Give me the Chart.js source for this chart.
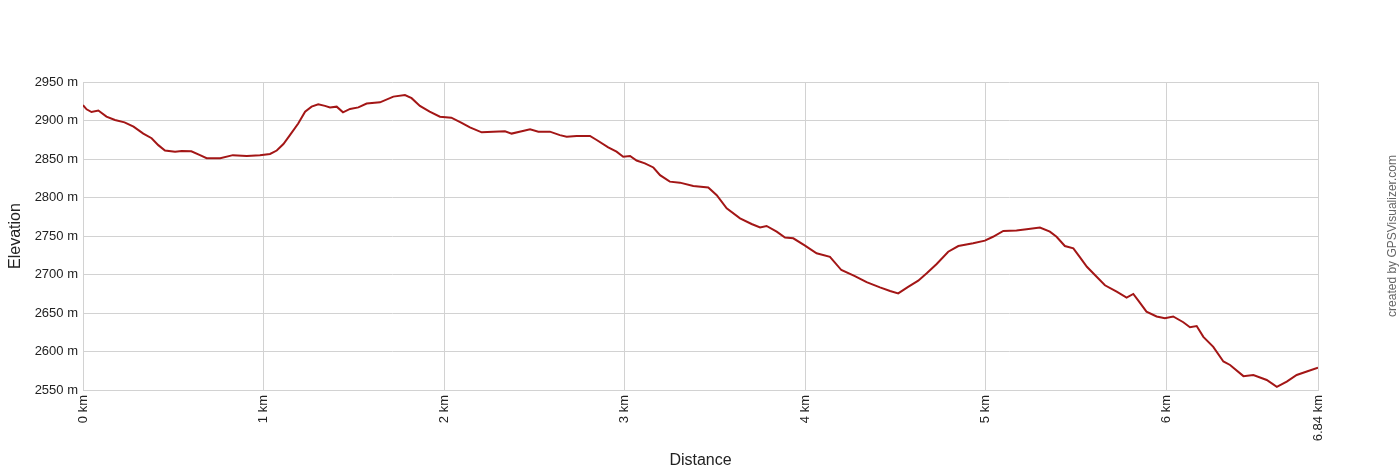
<!DOCTYPE html>
<html>
<head>
<meta charset="utf-8">
<script src="https://cdn.jsdelivr.net/npm/chart.js@4"></script>
<style>
  html, body { margin: 0; padding: 0; background: #fff; }
  #wrap { width: 1400px; height: 474px; position: relative; }
</style>
</head>
<body>
<div id="wrap"><canvas id="c" width="1400" height="474"></canvas></div>
<script>
const distanceKm = [0,0.02,0.047,0.085,0.13,0.177,0.23,0.28,0.334,0.38,0.417,0.454,0.51,0.547,0.60,0.648,0.685,0.76,0.83,0.907,0.98,1.036,1.073,1.11,1.146,1.192,1.23,1.266,1.303,1.34,1.368,1.405,1.44,1.479,1.525,1.571,1.645,1.719,1.783,1.82,1.866,1.92,1.977,2.04,2.097,2.143,2.208,2.272,2.337,2.374,2.43,2.476,2.522,2.586,2.641,2.679,2.734,2.808,2.845,2.909,2.955,2.992,3.03,3.066,3.112,3.159,3.196,3.25,3.306,3.38,3.463,3.51,3.565,3.639,3.703,3.75,3.786,3.842,3.888,3.934,3.999,4.063,4.137,4.2,4.275,4.34,4.414,4.47,4.515,4.57,4.626,4.673,4.728,4.792,4.848,4.93,4.995,5.04,5.097,5.17,5.226,5.3,5.355,5.392,5.438,5.485,5.52,5.56,5.614,5.66,5.725,5.78,5.817,5.845,5.89,5.946,5.992,6.038,6.094,6.131,6.168,6.205,6.26,6.316,6.353,6.427,6.482,6.556,6.612,6.667,6.722,6.778,6.84];
const elevationM = [2920,2914.5,2911,2913,2905,2900.6,2897.6,2892,2883,2877,2868,2861,2859.5,2860.4,2860,2855,2851,2851,2855,2854,2855,2856.5,2861,2869.5,2881,2896,2911.5,2918,2921,2919,2917,2918,2910.6,2915,2917,2922,2923.6,2931,2933,2929,2919,2911.5,2905,2903.7,2897,2891,2884.6,2885.5,2886,2883,2886,2888.5,2885.5,2885.5,2881,2879,2880,2880,2874.7,2865,2859.5,2853,2854,2848,2844.4,2839,2829,2820.6,2819.3,2815,2813,2803,2786,2773,2765.6,2761,2763,2755.6,2748,2747,2737.5,2727.5,2723,2705.8,2698,2690,2683.3,2678.6,2675.5,2684,2692,2701.5,2713.6,2729.6,2737,2740.5,2744,2749,2756.5,2757,2758.7,2761,2755.7,2749,2737,2734,2723,2710,2697,2686,2677.7,2670,2674.7,2666,2651.8,2645.5,2643.3,2645.5,2638,2631.5,2633,2619,2606,2587,2582.5,2568,2569.5,2563,2554,2561,2569.5,2574,2579];
const xTickValues = [0,1,2,3,4,5,6,6.84];
const yMin = 2550, yMax = 2950, yStep = 50;

const points = distanceKm.map((d, i) => ({ x: d, y: elevationM[i] }));

const watermark = {
  id: 'watermark',
  afterDraw(chart) {
    const ctx = chart.ctx;
    ctx.save();
    ctx.translate(1393, 236);
    ctx.rotate(-Math.PI / 2);
    ctx.font = '12px "Liberation Sans", Arial, sans-serif';
    ctx.fillStyle = '#666';
    ctx.textAlign = 'center';
    ctx.textBaseline = 'middle';
    ctx.fillText('created by GPSVisualizer.com', 0, 0);
    ctx.restore();
  }
};

const gridColor = '#d2d2d2';
new Chart(document.getElementById('c'), {
  type: 'line',
  data: {
    datasets: [{
      data: points,
      borderColor: '#a31616',
      borderWidth: 2,
      pointRadius: 0,
      tension: 0,
      fill: false
    }]
  },
  options: {
    responsive: false,
    animation: false,
    layout: { padding: { top: 82, right: 82, left: 0, bottom: 0 } },
    plugins: { legend: { display: false }, tooltip: { enabled: false } },
    scales: {
      x: {
        type: 'linear',
        min: 0,
        max: 6.84,
        afterBuildTicks: (s) => { s.ticks = xTickValues.map(v => ({ value: v })); },
        afterFit: (s) => { s.height = 84; },
        ticks: {
          autoSkip: false,
          maxRotation: 90,
          minRotation: 90,
          padding: 5,
          color: '#222',
          font: { family: '"Liberation Sans", Arial, sans-serif', size: 13 },
          callback: (v) => v + ' km'
        },
        grid: { color: gridColor, drawTicks: false },
        border: { color: gridColor },
        title: {
          display: true,
          text: 'Distance',
          color: '#222',
          padding: { top: 0, bottom: 4 },
          font: { family: '"Liberation Sans", Arial, sans-serif', size: 16 }
        }
      },
      y: {
        min: yMin,
        max: yMax,
        afterFit: (s) => { s.width = 83; },
        ticks: {
          stepSize: yStep,
          padding: 5,
          color: '#222',
          font: { family: '"Liberation Sans", Arial, sans-serif', size: 13 },
          callback: (v) => v + ' m'
        },
        grid: { color: gridColor, drawTicks: false },
        border: { color: gridColor },
        title: {
          display: true,
          text: 'Elevation',
          color: '#222',
          padding: { top: 6, bottom: 0 },
          font: { family: '"Liberation Sans", Arial, sans-serif', size: 16 }
        }
      }
    }
  },
  plugins: [watermark]
});
</script>
</body>
</html>
